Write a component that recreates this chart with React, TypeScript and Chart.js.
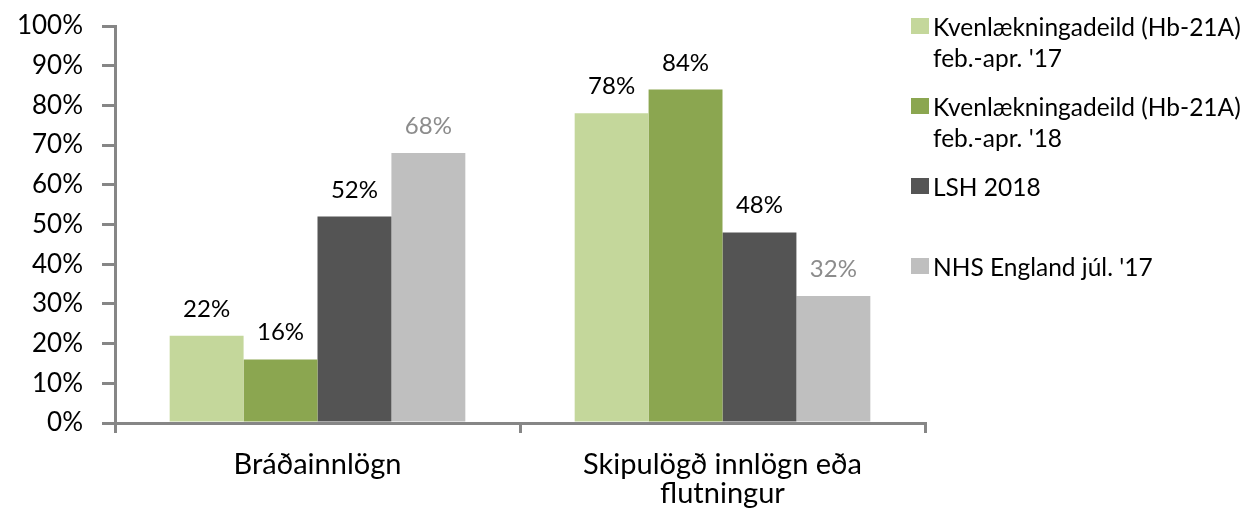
import React, { useEffect, useRef } from "react";
import { Chart, registerables } from "chart.js";

Chart.register(...registerables);

const categories: (string | string[])[] = ["Bráðainnlögn", ["Skipulögð innlögn eða", "flutningur"]];
const seriesNames: string[][] = [
  ["Kvenlækningadeild (Hb-21A)", "feb.-apr. '17"],
  ["Kvenlækningadeild (Hb-21A)", "feb.-apr. '18"],
  ["LSH 2018"],
  ["NHS England júl. '17"],
];
const kvenl17 = [22, 78];
const kvenl18 = [16, 84];
const lsh2018 = [52, 48];
const nhsEngland = [68, 32];
const yTickValues = [0, 10, 20, 30, 40, 50, 60, 70, 80, 90, 100];

const barColors = ["#C4D79B", "#8BA650", "#545454", "#BFBFBF"];
const valueLabelColors = ["#000000", "#000000", "#000000", "#8C8C8C"];
const legendTops = [18, 98, 178, 258];
const FONT = "Lato, 'Open Sans', sans-serif";
const AXIS = "#868686";

const valueLabelPlugin = {
  id: "valueLabels",
  afterDatasetsDraw(chart: any) {
    const ctx = chart.ctx;
    ctx.save();
    ctx.font = `24px ${FONT}`;
    ctx.textAlign = "center";
    ctx.textBaseline = "alphabetic";
    chart.data.datasets.forEach((ds: any, i: number) => {
      const meta = chart.getDatasetMeta(i);
      meta.data.forEach((bar: any, j: number) => {
        ctx.fillStyle = valueLabelColors[i];
        ctx.fillText(`${ds.data[j]}%`, bar.x, bar.y - 19);
      });
    });
    ctx.restore();
  },
};

const legendPlugin = {
  id: "customLegend",
  afterDraw(chart: any) {
    const ctx = chart.ctx;
    ctx.save();
    ctx.font = `24.5px ${FONT}`;
    ctx.textAlign = "left";
    ctx.textBaseline = "alphabetic";
    chart.data.datasets.forEach((ds: any, i: number) => {
      const top = legendTops[i];
      ctx.fillStyle = barColors[i];
      ctx.fillRect(911, top, 18, 16);
      ctx.fillStyle = "#000000";
      seriesNames[i].forEach((line, k) => {
        ctx.fillText(line, 933, top + 18 + k * 31);
      });
    });
    ctx.restore();
  },
};

export default function App() {
  const ref = useRef<HTMLCanvasElement>(null);
  useEffect(() => {
    document.body.style.margin = "0";
    const chart = new Chart(ref.current as HTMLCanvasElement, {
      type: "bar",
      data: {
        labels: categories as any,
        datasets: [kvenl17, kvenl18, lsh2018, nhsEngland].map((d, i) => ({
          label: seriesNames[i].join(" "),
          data: d,
          backgroundColor: barColors[i],
          borderWidth: 0,
          categoryPercentage: 0.73,
          barPercentage: 1,
        })),
      },
      options: {
        animation: false,
        responsive: false,
        layout: { autoPadding: false, padding: { top: 26, right: 320, left: 0, bottom: 0 } },
        plugins: { legend: { display: false }, tooltip: { enabled: false } },
        scales: {
          x: {
            grid: { display: true, drawOnChartArea: false, offset: true, color: AXIS, lineWidth: 3, tickLength: 10 },
            border: { display: true, color: AXIS, width: 3 },
            ticks: { color: "#000000", font: { family: FONT, size: 29, lineHeight: 1.0 }, padding: 17, maxRotation: 0 },
            afterFit(scale: any) {
              scale.height = 97;
              scale.paddingLeft = 0;
              scale.paddingRight = 0;
            },
          },
          y: {
            min: 0,
            max: 100,
            afterBuildTicks(scale: any) { scale.ticks = yTickValues.map((v) => ({ value: v })); },
            grid: { display: true, drawOnChartArea: false, color: AXIS, lineWidth: 3, tickLength: 13 },
            border: { display: true, color: AXIS, width: 3 },
            ticks: { color: "#000000", font: { family: FONT, size: 26 }, padding: 19, callback: (v: any) => `${v}%` },
            afterFit(scale: any) {
              scale.width = 115;
              scale.paddingTop = 0;
              scale.paddingBottom = 0;
            },
          },
        },
      },
      plugins: [valueLabelPlugin, legendPlugin],
    });
    return () => chart.destroy();
  }, []);
  return <canvas ref={ref} width={1245} height={520} style={{ display: "block" }} />;
}
